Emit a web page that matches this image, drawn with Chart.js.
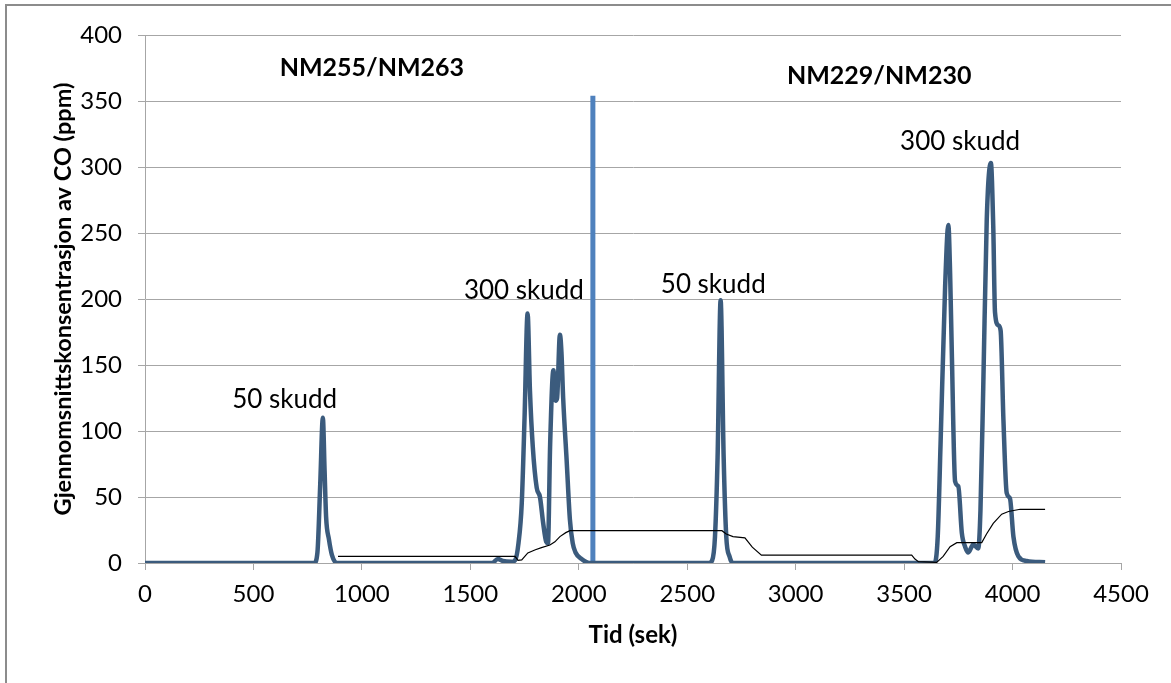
<!DOCTYPE html>
<html>
<head>
<meta charset="utf-8">
<script src="https://cdn.jsdelivr.net/npm/chart.js@4"></script>
<style>
  html, body { margin: 0; padding: 0; background: #fff; }
  canvas { display: block; }
</style>
</head>
<body>
<canvas id="coChart" width="1171" height="683"></canvas>
<script>
// CO concentration (ppm) against time (sek), thick line
const coTime = [0, 780, 795, 808, 820, 828, 835, 848, 862, 885,
  1600, 1627, 1650, 1690, 1706, 1722, 1737, 1750, 1764, 1775, 1788, 1806, 1821, 1836, 1850, 1858,
  1868, 1883, 1893, 1900, 1913, 1920, 1928, 1944, 1959, 1972, 1985, 2013, 2050,
  2600, 2615, 2628, 2640, 2654, 2668, 2680, 2695, 2710,
  3640, 3655, 3668, 3689, 3704, 3712, 3720, 3735, 3750, 3766, 3782, 3796, 3819, 3842, 3852,
  3865, 3881, 3900, 3911, 3919, 3935, 3945, 3958, 3973, 3988, 4004, 4027, 4065, 4150];
const coValues = [0, 0, 8, 60, 110, 70, 35, 18, 6, 0,
  0, 3, 1.5, 1, 2, 15, 45, 110, 189, 130, 88, 57, 50, 30, 16, 15,
  90, 146, 123, 125, 173, 160, 125, 78, 33, 15, 8, 3, 0,
  0, 2, 20, 80, 199, 80, 20, 5, 0,
  0, 20, 90, 209, 256, 220, 159, 62, 58, 23, 12, 8, 14, 11, 40,
  134, 260, 303, 255, 190, 180, 176, 108, 53, 49, 20, 5, 1.5, 0.5];

// thin reference line
const refTime = [890, 1706, 1720, 1737, 1765, 1800, 1828, 1867, 1890, 1913, 1940, 1959,
  2660, 2680, 2711, 2766, 2800, 2842, 3535, 3550, 3566, 3650, 3680, 3712, 3743,
  3858, 3880, 3911, 3950, 3981, 4035, 4150];
const refValues = [5, 5, 2, 2.3, 7.6, 10, 11.6, 13.6, 16, 20, 23, 24.5,
  24.5, 22, 20, 19, 12, 6, 6, 3, 1, 0.5, 5, 12.4, 15.4,
  15.5, 22, 30, 37, 39, 40.7, 40.7];

// separator between the two test series
const splitTime = [2065, 2065];
const splitValues = [0, 354];

// text placed in the plot
const noteText = ['50 skudd', '300 skudd', '50 skudd', '300 skudd'];
const noteX = [644, 1747, 2620, 3758];
const noteY = [124, 206, 211, 319];
const headText = ['NM255/NM263', 'NM229/NM230'];
const headX = [1046, 3385];
const headY = [375, 369];

const xTicks = [0, 500, 1000, 1500, 2000, 2500, 3000, 3500, 4000, 4500];

const toPoints = (xs, ys) => xs.map((x, i) => ({ x: x, y: ys[i] }));

const FONT = 'Lato, "Open Sans", sans-serif';

const frame = {
  id: 'frame',
  beforeDraw(chart) {
    const ctx = chart.ctx;
    ctx.save();
    ctx.fillStyle = '#fff';
    ctx.fillRect(0, 0, chart.width, chart.height);
    ctx.strokeStyle = '#8c8c8c';
    ctx.lineWidth = 2;
    ctx.strokeRect(6, 5, 1300, 900);
    ctx.restore();
  }
};

const notes = {
  id: 'notes',
  afterDatasetsDraw(chart) {
    const ctx = chart.ctx;
    const xs = chart.scales.x, ys = chart.scales.y;
    ctx.save();
    ctx.fillStyle = '#000';
    ctx.textAlign = 'center';
    ctx.textBaseline = 'middle';
    ctx.font = '26px ' + FONT;
    noteText.forEach((t, i) => {
      ctx.fillText(t, xs.getPixelForValue(noteX[i]), ys.getPixelForValue(noteY[i]));
    });
    ctx.font = 'bold 25px ' + FONT;
    headText.forEach((t, i) => {
      ctx.fillText(t, xs.getPixelForValue(headX[i]), ys.getPixelForValue(headY[i]));
    });
    ctx.restore();
  }
};

new Chart(document.getElementById('coChart'), {
  type: 'line',
  data: {
    datasets: [
      {
        data: toPoints(refTime, refValues),
        borderColor: '#000',
        borderWidth: 1.2,
        pointRadius: 0,
        tension: 0
      },
      {
        data: toPoints(coTime, coValues),
        borderColor: '#3b5b7d',
        borderWidth: 4.5,
        pointRadius: 0,
        cubicInterpolationMode: 'monotone'
      },
      {
        data: toPoints(splitTime, splitValues),
        borderColor: '#4f81bd',
        borderWidth: 5,
        borderCapStyle: 'butt',
        pointRadius: 0
      }
    ]
  },
  options: {
    responsive: false,
    animation: false,
    events: [],
    layout: { padding: { top: 35, right: 50, left: 0, bottom: 0 } },
    plugins: { legend: { display: false }, tooltip: { enabled: false } },
    scales: {
      x: {
        type: 'linear',
        min: 0,
        max: 4500,
        afterBuildTicks: (s) => { s.ticks = xTicks.map(v => ({ value: v })); },
        afterFit: (s) => { s.height = 120; },
        ticks: {
          color: '#000',
          font: { family: FONT, size: 24 },
          padding: 10,
          maxRotation: 0,
          callback: (v) => String(v)
        },
        grid: { drawOnChartArea: false, drawTicks: true, tickLength: 7, color: '#a6a6a6' },
        border: { color: '#a6a6a6', width: 1 },
        title: {
          display: true,
          text: 'Tid (sek)',
          color: '#000',
          font: { family: FONT, size: 24, weight: 'bold' },
          padding: { top: 0, bottom: 33 }
        }
      },
      y: {
        min: 0,
        max: 400,
        afterFit: (s) => { s.width = 145; },
        ticks: {
          stepSize: 50,
          color: '#000',
          font: { family: FONT, size: 24 },
          padding: 16,
          callback: (v) => String(v)
        },
        grid: { color: '#a6a6a6', drawTicks: true, tickLength: 7 },
        border: { color: '#a6a6a6', width: 1 },
        title: {
          display: true,
          text: 'Gjennomsnittskonsentrasjon av CO (ppm)',
          color: '#000',
          font: { family: FONT, size: 23.5, weight: 'bold' },
          padding: { top: 49, bottom: 0 }
        }
      }
    }
  },
  plugins: [frame, notes]
});
</script>
</body>
</html>
